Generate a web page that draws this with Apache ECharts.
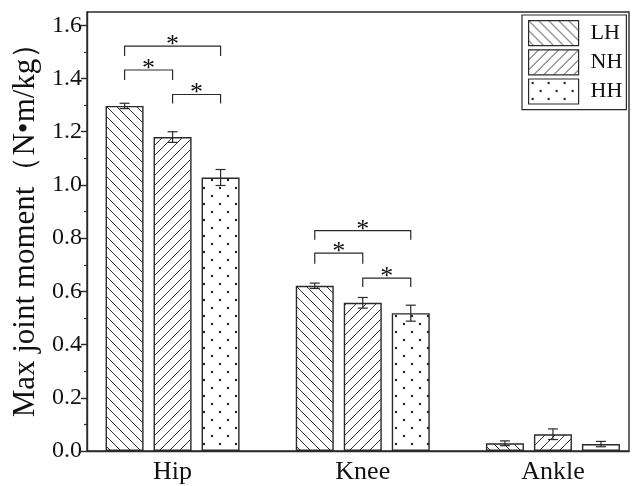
<!DOCTYPE html>
<html>
<head>
<meta charset="utf-8">
<script src="https://cdn.jsdelivr.net/npm/echarts@6/dist/echarts.min.js"></script>
<style>
  html, body { margin: 0; padding: 0; background: #fff; }
  #chart { width: 633px; height: 486px; }
</style>
</head>
<body>
<div id="chart"></div>
<script>
// Joint categories and hypoxia groups
const joints = ['Hip', 'Knee', 'Ankle'];
const groups = ['LH', 'NH', 'HH'];

// Max joint moment (N·m/kg), mean and error per joint
const lhMean = [1.297, 0.621, 0.029];
const lhErr  = [0.010, 0.010, 0.009];
const nhMean = [1.180, 0.557, 0.063];
const nhErr  = [0.020, 0.020, 0.020];
const hhMean = [1.028, 0.518, 0.026];
const hhErr  = [0.030, 0.030, 0.010];

// Y axis tick values
const yTickValues = [0, 0.2, 0.4, 0.6, 0.8, 1.0, 1.2, 1.4, 1.6];

// Significance brackets: [joint index, from group, to group, bracket level, leg end]
const sigBrackets = [
  [0, 0, 2, 1.522, 1.485],
  [0, 0, 1, 1.432, 1.394],
  [0, 1, 2, 1.340, 1.306],
  [1, 0, 2, 0.828, 0.794],
  [1, 0, 1, 0.744, 0.704],
  [1, 1, 2, 0.650, 0.616]
];

const FONT = '"Liberation Serif", "Times New Roman", serif';
const INK = '#2a2a2a';
const BAR_W = 38;
const BAR_SPACE = 10;

// Fill patterns drawn on small tiles
function hatchTile(forward) {
  const s = 10;
  const c = document.createElement('canvas');
  c.width = s; c.height = s;
  const g = c.getContext('2d');
  g.fillStyle = '#fff';
  g.fillRect(0, 0, s, s);
  g.strokeStyle = '#333';
  g.lineWidth = 1;
  g.beginPath();
  if (forward) {
    g.moveTo(-1, s + 1); g.lineTo(s + 1, -1);
    g.moveTo(-2, 2); g.lineTo(2, -2);
    g.moveTo(s - 2, s + 2); g.lineTo(s + 2, s - 2);
  } else {
    g.moveTo(-1, -1); g.lineTo(s + 1, s + 1);
    g.moveTo(-2, s - 2); g.lineTo(2, s + 2);
    g.moveTo(s - 2, -2); g.lineTo(s + 2, 2);
  }
  g.stroke();
  return c;
}
function dotTile() {
  const s = 16;
  const c = document.createElement('canvas');
  c.width = s; c.height = s;
  const g = c.getContext('2d');
  g.fillStyle = '#fff';
  g.fillRect(0, 0, s, s);
  g.fillStyle = '#222';
  [[4, 4], [12, 12]].forEach(function (p) {
    g.beginPath(); g.arc(p[0], p[1], 1.2, 0, Math.PI * 2); g.fill();
  });
  return c;
}
const fills = [
  { image: hatchTile(false), repeat: 'repeat' },
  { image: hatchTile(true), repeat: 'repeat' },
  { image: dotTile(), repeat: 'repeat' }
];

const means = [lhMean, nhMean, hhMean];
const errs = [lhErr, nhErr, hhErr];

function groupOffset(g) { return (BAR_W + BAR_SPACE) * (g - 1); }

const barSeries = groups.map(function (name, g) {
  return {
    name: name,
    type: 'bar',
    barWidth: BAR_W,
    barGap: (BAR_SPACE / BAR_W * 100).toFixed(2) + '%',
    data: joints.map(function (j, i) { return [i + 1, means[g][i]]; }),
    itemStyle: { color: fills[g], borderColor: INK, borderWidth: 1.4 },
    emphasis: { disabled: true },
    z: 2
  };
});

const errorSeries = groups.map(function (name, g) {
  return {
    name: name + ' error',
    type: 'custom',
    data: joints.map(function (j, i) { return [i + 1, means[g][i], errs[g][i]]; }),
    encode: { x: 0, y: 1 },
    z: 5,
    silent: true,
    renderItem: function (params, api) {
      const x = api.value(0), m = api.value(1), e = api.value(2);
      const hi = api.coord([x, m + e]);
      const lo = api.coord([x, m - e]);
      const cx = hi[0] + groupOffset(g);
      const cap = 5;
      const style = { stroke: INK, lineWidth: 1.2 };
      return {
        type: 'group',
        children: [
          { type: 'line', shape: { x1: cx, y1: hi[1], x2: cx, y2: lo[1] }, style: style },
          { type: 'line', shape: { x1: cx - cap, y1: hi[1], x2: cx + cap, y2: hi[1] }, style: style },
          { type: 'line', shape: { x1: cx - cap, y1: lo[1], x2: cx + cap, y2: lo[1] }, style: style }
        ]
      };
    }
  };
});

const bracketSeries = {
  name: 'significance',
  type: 'custom',
  data: sigBrackets.map(function (b) { return [b[0] + 1, b[3], b[1], b[2], b[4]]; }),
  encode: { x: 0, y: 1 },
  z: 6,
  silent: true,
  renderItem: function (params, api) {
    const x = api.value(0), level = api.value(1);
    const a = api.value(2), b = api.value(3), leg = api.value(4);
    const top = api.coord([x, level]);
    const end = api.coord([x, leg]);
    const xa = top[0] + groupOffset(a);
    const xb = top[0] + groupOffset(b);
    return {
      type: 'group',
      children: [
        {
          type: 'polyline',
          shape: { points: [[xa, end[1]], [xa, top[1]], [xb, top[1]], [xb, end[1]]] },
          style: { stroke: INK, lineWidth: 1.2, fill: null }
        },
        {
          type: 'text',
          style: {
            text: '*', x: (xa + xb) / 2, y: top[1] - 1,
            align: 'center', verticalAlign: 'middle',
            font: '26px ' + FONT, fill: '#111'
          }
        }
      ]
    };
  }
};

const chart = echarts.init(document.getElementById('chart'), null, { renderer: 'canvas' });
chart.setOption({
  animation: false,
  backgroundColor: '#fff',
  grid: {
    left: 87, right: 4, top: 12, bottom: 35,
    show: true, borderColor: INK, borderWidth: 1.4, backgroundColor: 'transparent'
  },
  legend: {
    data: groups,
    orient: 'vertical',
    left: 522, top: 15,
    itemWidth: 50, itemHeight: 25, itemGap: 3,
    icon: 'rect',
    padding: [5, 4, 5, 6],
    borderColor: INK, borderWidth: 1.2,
    backgroundColor: '#fff',
    selectedMode: false,
    itemStyle: { borderColor: INK, borderWidth: 1.2 },
    textStyle: { fontFamily: FONT, fontSize: 22, color: '#111', padding: [0, 0, 0, 7] }
  },
  xAxis: {
    type: 'value',
    min: 0.55, max: 3.4, interval: 0.05,
    axisLine: { show: true, lineStyle: { color: INK, width: 1.4 } },
    axisTick: { show: false },
    splitLine: { show: false },
    axisLabel: {
      fontFamily: FONT, fontSize: 26, color: '#111', margin: 8,
      showMinLabel: false, showMaxLabel: false,
      formatter: function (v) {
        const r = Math.round(v);
        return (Math.abs(v - r) < 1e-6 && r >= 1 && r <= joints.length) ? joints[r - 1] : '';
      }
    }
  },
  yAxis: {
    type: 'value',
    min: 0, max: 1.65, interval: 0.2,
    name: 'Max joint moment（N•m/kg）',
    nameLocation: 'middle',
    nameGap: 46,
    nameTextStyle: { fontFamily: FONT, fontSize: 31, color: '#111', padding: [0, 0, 0, 18] },
    axisLine: { show: true, lineStyle: { color: INK, width: 1.4 } },
    axisTick: { show: true, inside: false, length: 6, customValues: yTickValues, lineStyle: { color: INK, width: 1.4 } },
    minorTick: { show: true, splitNumber: 2, length: 3, lineStyle: { color: INK, width: 1.2 } },
    splitLine: { show: false },
    axisLabel: {
      fontFamily: FONT, fontSize: 24, color: '#111', margin: 5,
      customValues: yTickValues,
      formatter: function (v) { return v.toFixed(1); }
    }
  },
  series: barSeries.concat(errorSeries, [bracketSeries])
});
</script>
</body>
</html>
